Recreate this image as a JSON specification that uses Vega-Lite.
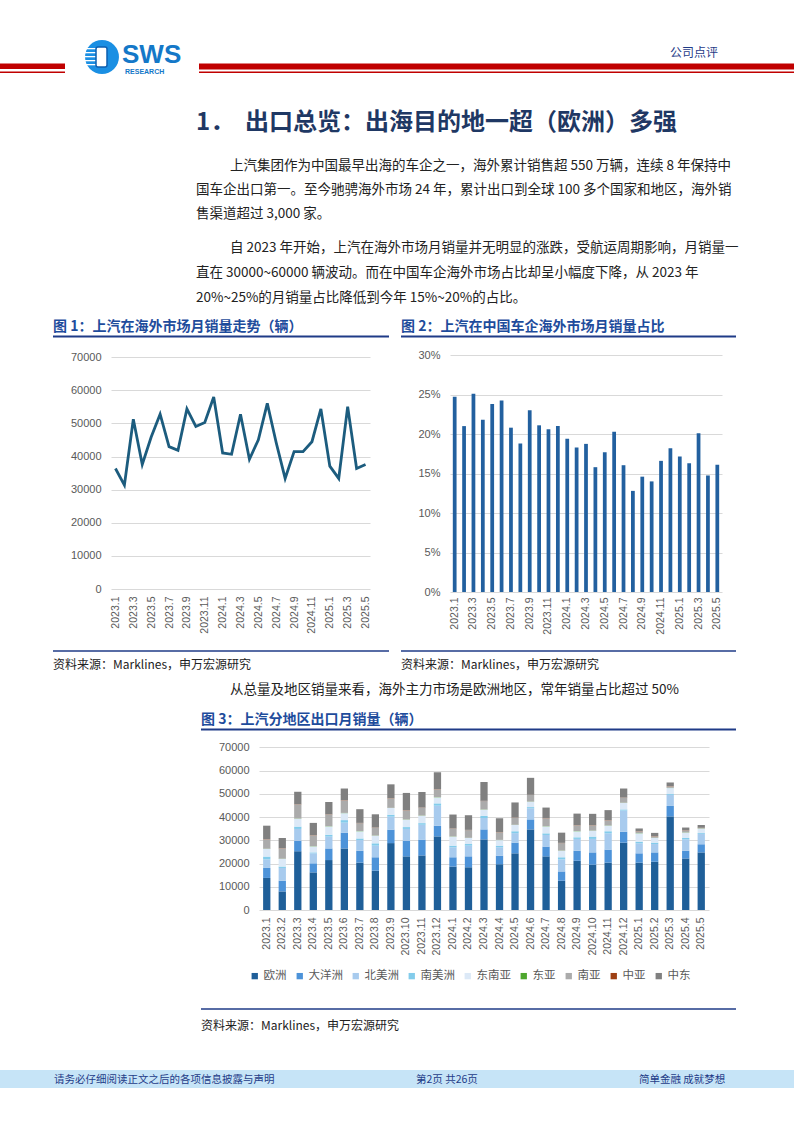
{
  "$schema": "https://vega.github.io/schema/vega-lite/v6.json",
  "padding": 0,
  "background": "white",
  "spacing": 0,
  "config": {
    "view": {"stroke": null},
    "font": "Noto Sans CJK SC",
    "axis": {"labelFont": "Liberation Sans", "labelColor": "#595959", "ticks": false, "domain": false, "title": null, "gridColor": "#D9D9D9", "gridWidth": 1, "labelOverlap": false}
  },
  "datasets": {
    "line": [
      {"m": "2023.1", "v": 36400}, {"m": "2023.2", "v": 31400}, {"m": "2023.3", "v": 51300}, {"m": "2023.4", "v": 37600},
      {"m": "2023.5", "v": 45900}, {"m": "2023.6", "v": 52800}, {"m": "2023.7", "v": 43000}, {"m": "2023.8", "v": 41900},
      {"m": "2023.9", "v": 54400}, {"m": "2023.10", "v": 49100}, {"m": "2023.11", "v": 50300}, {"m": "2023.12", "v": 58000},
      {"m": "2024.1", "v": 41100}, {"m": "2024.2", "v": 40700}, {"m": "2024.3", "v": 52800}, {"m": "2024.4", "v": 39200},
      {"m": "2024.5", "v": 45100}, {"m": "2024.6", "v": 56100}, {"m": "2024.7", "v": 44200}, {"m": "2024.8", "v": 33400},
      {"m": "2024.9", "v": 41500}, {"m": "2024.10", "v": 41500}, {"m": "2024.11", "v": 44500}, {"m": "2024.12", "v": 54400},
      {"m": "2025.1", "v": 37100}, {"m": "2025.2", "v": 33400}, {"m": "2025.3", "v": 55100}, {"m": "2025.4", "v": 36400},
      {"m": "2025.5", "v": 37600}
    ],
    "share": [
      {"m": "2023.1", "s": 0.247}, {"m": "2023.2", "s": 0.210}, {"m": "2023.3", "s": 0.251}, {"m": "2023.4", "s": 0.218},
      {"m": "2023.5", "s": 0.238}, {"m": "2023.6", "s": 0.2425}, {"m": "2023.7", "s": 0.208}, {"m": "2023.8", "s": 0.188},
      {"m": "2023.9", "s": 0.230}, {"m": "2023.10", "s": 0.211}, {"m": "2023.11", "s": 0.206}, {"m": "2023.12", "s": 0.210},
      {"m": "2024.1", "s": 0.194}, {"m": "2024.2", "s": 0.183}, {"m": "2024.3", "s": 0.1875}, {"m": "2024.4", "s": 0.158},
      {"m": "2024.5", "s": 0.177}, {"m": "2024.6", "s": 0.203}, {"m": "2024.7", "s": 0.1605}, {"m": "2024.8", "s": 0.128},
      {"m": "2024.9", "s": 0.146}, {"m": "2024.10", "s": 0.140}, {"m": "2024.11", "s": 0.166}, {"m": "2024.12", "s": 0.182},
      {"m": "2025.1", "s": 0.1715}, {"m": "2025.2", "s": 0.163}, {"m": "2025.3", "s": 0.201}, {"m": "2025.4", "s": 0.1475},
      {"m": "2025.5", "s": 0.161}
    ],
    "region": [
      {"m": "2023.1", "欧洲": 13800, "大洋洲": 4300, "北美洲": 3700, "南美洲": 1200, "东南亚": 3300, "东亚": 100, "南亚": 4000, "中亚": 100, "中东": 5800},
      {"m": "2023.2", "欧洲": 8000, "大洋洲": 4600, "北美洲": 5500, "南美洲": 600, "东南亚": 3300, "东亚": 100, "南亚": 4400, "中亚": 100, "中东": 4400},
      {"m": "2023.3", "欧洲": 25300, "大洋洲": 4500, "北美洲": 5100, "南美洲": 1000, "东南亚": 3400, "东亚": 100, "南亚": 6000, "中亚": 100, "中东": 5400},
      {"m": "2023.4", "欧洲": 16200, "大洋洲": 3900, "北美洲": 4300, "南美洲": 400, "东南亚": 2600, "东亚": 100, "南亚": 4600, "中亚": 100, "中东": 5300},
      {"m": "2023.5", "欧洲": 21500, "大洋洲": 5000, "北美洲": 5100, "南美洲": 800, "东南亚": 3600, "东亚": 100, "南亚": 5000, "中亚": 100, "中东": 5300},
      {"m": "2023.6", "欧洲": 26500, "大洋洲": 6800, "北美洲": 4300, "南美洲": 1100, "东南亚": 3000, "东亚": 100, "南亚": 5400, "中亚": 100, "中东": 5000},
      {"m": "2023.7", "欧洲": 20400, "大洋洲": 5100, "北美洲": 4600, "南美洲": 700, "东南亚": 3100, "东亚": 100, "南亚": 3400, "中亚": 100, "中东": 5900},
      {"m": "2023.8", "欧洲": 16900, "大洋洲": 5800, "北美洲": 5000, "南美洲": 1000, "东南亚": 3300, "东亚": 100, "南亚": 3300, "中亚": 100, "中东": 5700},
      {"m": "2023.9", "欧洲": 28800, "大洋洲": 5800, "北美洲": 5600, "南美洲": 800, "东南亚": 2900, "东亚": 100, "南亚": 4000, "中亚": 100, "中东": 6000},
      {"m": "2023.10", "欧洲": 23100, "大洋洲": 6700, "北美洲": 5100, "南美洲": 800, "东南亚": 3200, "东亚": 100, "南亚": 3900, "中亚": 100, "中东": 7400},
      {"m": "2023.11", "欧洲": 23500, "大洋洲": 6800, "北美洲": 6400, "南美洲": 700, "东南亚": 3200, "东亚": 100, "南亚": 3300, "中亚": 100, "中东": 6700},
      {"m": "2023.12", "欧洲": 31700, "大洋洲": 4600, "北美洲": 8600, "南美洲": 1000, "东南亚": 2600, "东亚": 100, "南亚": 3300, "中亚": 100, "中东": 7300},
      {"m": "2024.1", "欧洲": 18700, "大洋洲": 4000, "北美洲": 4300, "南美洲": 700, "东南亚": 3900, "东亚": 100, "南亚": 3300, "中亚": 100, "中东": 6000},
      {"m": "2024.2", "欧洲": 18400, "大洋洲": 4700, "北美洲": 4600, "南美洲": 700, "东南亚": 2600, "东亚": 100, "南亚": 3300, "中亚": 100, "中东": 6300},
      {"m": "2024.3", "欧洲": 30400, "大洋洲": 4300, "北美洲": 4900, "南美洲": 900, "东南亚": 2700, "东亚": 100, "南亚": 3600, "中亚": 100, "中东": 8100},
      {"m": "2024.4", "欧洲": 19700, "大洋洲": 3700, "北美洲": 3600, "南美洲": 700, "东南亚": 2400, "东亚": 100, "南亚": 3200, "中亚": 100, "中东": 6000},
      {"m": "2024.5", "欧洲": 24400, "大洋洲": 4600, "北美洲": 4100, "南美洲": 800, "东南亚": 2700, "东亚": 100, "南亚": 3000, "中亚": 100, "中东": 6500},
      {"m": "2024.6", "欧洲": 34700, "大洋洲": 4300, "北美洲": 4800, "南美洲": 500, "东南亚": 2300, "东亚": 100, "南亚": 2800, "中亚": 100, "中东": 7300},
      {"m": "2024.7", "欧洲": 23100, "大洋洲": 4200, "北美洲": 5000, "南美洲": 700, "东南亚": 3000, "东亚": 100, "南亚": 3300, "中亚": 100, "中东": 4600},
      {"m": "2024.8", "欧洲": 12600, "大洋洲": 4000, "北美洲": 5200, "南美洲": 900, "东南亚": 2800, "东亚": 100, "南亚": 3200, "中亚": 100, "中东": 4400},
      {"m": "2024.9", "欧洲": 21200, "大洋洲": 4300, "北美洲": 5100, "南美洲": 700, "东南亚": 2600, "东亚": 100, "南亚": 2400, "中亚": 100, "中东": 5000},
      {"m": "2024.10", "欧洲": 19500, "大洋洲": 5300, "北美洲": 5800, "南美洲": 1000, "东南亚": 2500, "东亚": 100, "南亚": 2200, "中亚": 100, "中东": 4900},
      {"m": "2024.11", "欧洲": 20400, "大洋洲": 5600, "北美洲": 7000, "南美洲": 900, "东南亚": 2400, "东亚": 100, "南亚": 2200, "中亚": 100, "中东": 4300},
      {"m": "2024.12", "欧洲": 29000, "大洋洲": 4700, "北美洲": 9100, "南美洲": 500, "东南亚": 2800, "东亚": 100, "南亚": 2100, "中亚": 100, "中东": 3900},
      {"m": "2025.1", "欧洲": 20400, "大洋洲": 4000, "北美洲": 4300, "南美洲": 700, "东南亚": 3600, "东亚": 100, "南亚": 700, "中亚": 100, "中东": 1200},
      {"m": "2025.2", "欧洲": 20800, "大洋洲": 4000, "北美洲": 3600, "南美洲": 600, "东南亚": 2000, "东亚": 100, "南亚": 600, "中亚": 100, "中东": 1400},
      {"m": "2025.3", "欧洲": 40300, "大洋洲": 4500, "北美洲": 4700, "南美洲": 400, "东南亚": 2600, "东亚": 100, "南亚": 600, "中亚": 100, "中东": 1600},
      {"m": "2025.4", "欧洲": 22200, "大洋洲": 3300, "北美洲": 4900, "南美洲": 600, "东南亚": 2300, "东亚": 100, "南亚": 800, "中亚": 100, "中东": 1200},
      {"m": "2025.5", "欧洲": 24800, "大洋洲": 3500, "北美洲": 4400, "南美洲": 400, "东南亚": 1900, "东亚": 100, "南亚": 200, "中亚": 100, "中东": 1200}
    ]
  },
  "vconcat": [
    {
      "width": 794, "height": 344,
      "data": {"values": [{}]},
      "layer": [
        {"mark": {"type": "rect", "fill": "#C00000"}, "encoding": {"x": {"value": 0}, "x2": {"value": 65}, "y": {"value": 63.5}, "y2": {"value": 69}}},
        {"mark": {"type": "rect", "fill": "#C00000"}, "encoding": {"x": {"value": 0}, "x2": {"value": 65}, "y": {"value": 71.5}, "y2": {"value": 73}}},
        {"mark": {"type": "rect", "fill": "#C00000"}, "encoding": {"x": {"value": 199}, "x2": {"value": 794}, "y": {"value": 63.5}, "y2": {"value": 69.5}}},
        {"mark": {"type": "rect", "fill": "#C00000"}, "encoding": {"x": {"value": 199}, "x2": {"value": 794}, "y": {"value": 71.5}, "y2": {"value": 73}}},
        {"mark": {"type": "point", "shape": "circle", "filled": true, "size": 1150, "color": "#1A8FE3", "opacity": 1}, "encoding": {"x": {"value": 102}, "y": {"value": 57}}},
        {"mark": {"type": "rect", "fill": "white"}, "encoding": {"x": {"value": 84}, "x2": {"value": 96}, "y": {"value": 48}, "y2": {"value": 49.3}}},
        {"mark": {"type": "rect", "fill": "white"}, "encoding": {"x": {"value": 84}, "x2": {"value": 96}, "y": {"value": 52}, "y2": {"value": 53.3}}},
        {"mark": {"type": "rect", "fill": "white"}, "encoding": {"x": {"value": 84}, "x2": {"value": 96}, "y": {"value": 56}, "y2": {"value": 57.3}}},
        {"mark": {"type": "rect", "fill": "white"}, "encoding": {"x": {"value": 84}, "x2": {"value": 96}, "y": {"value": 60}, "y2": {"value": 61.3}}},
        {"mark": {"type": "rect", "fill": "white"}, "encoding": {"x": {"value": 84}, "x2": {"value": 96}, "y": {"value": 64}, "y2": {"value": 65.3}}},
        {"mark": {"type": "rect", "fill": "white", "stroke": "#0D5FB0", "strokeWidth": 1.5, "cornerRadius": 2}, "encoding": {"x": {"value": 96}, "x2": {"value": 107}, "y": {"value": 47}, "y2": {"value": 67}}},
        {"mark": {"type": "text", "text": "SWS", "font": "Liberation Sans", "fontWeight": "bold", "fontSize": 26, "color": "#1478C8", "align": "left", "baseline": "alphabetic"}, "encoding": {"x": {"value": 122}, "y": {"value": 63}}},
        {"mark": {"type": "text", "text": "RESEARCH", "font": "Liberation Sans", "fontWeight": "bold", "fontSize": 7, "color": "#1478C8", "align": "left", "baseline": "alphabetic"}, "encoding": {"x": {"value": 125}, "y": {"value": 74}}},
        {"mark": {"type": "text", "text": "公司点评", "fontSize": 12, "color": "#1F3C88", "align": "left", "baseline": "alphabetic"}, "encoding": {"x": {"value": 670}, "y": {"value": 57}}},
        {"mark": {"type": "text", "text": "1．", "fontSize": 24, "fontWeight": "bold", "color": "#1F3864", "align": "left", "baseline": "alphabetic"}, "encoding": {"x": {"value": 196}, "y": {"value": 130}}},
        {"mark": {"type": "text", "text": "出口总览：出海目的地一超（欧洲）多强", "fontSize": 24, "fontWeight": "bold", "color": "#1F3864", "align": "left", "baseline": "alphabetic"}, "encoding": {"x": {"value": 245}, "y": {"value": 130}}},
        {"mark": {"type": "text", "text": "上汽集团作为中国最早出海的车企之一，海外累计销售超 550 万辆，连续 8 年保持中", "fontSize": 13.5, "color": "#222222", "align": "left", "baseline": "alphabetic"}, "encoding": {"x": {"value": 230}, "y": {"value": 170}}},
        {"mark": {"type": "text", "text": "国车企出口第一。至今驰骋海外市场 24 年，累计出口到全球 100 多个国家和地区，海外销\n售渠道超过 3,000 家。", "lineBreak": "\n", "lineHeight": 24, "fontSize": 13.5, "color": "#222222", "align": "left", "baseline": "alphabetic"}, "encoding": {"x": {"value": 196}, "y": {"value": 194}}},
        {"mark": {"type": "text", "text": "自 2023 年开始，上汽在海外市场月销量并无明显的涨跌，受航运周期影响，月销量一", "fontSize": 13.5, "color": "#222222", "align": "left", "baseline": "alphabetic"}, "encoding": {"x": {"value": 230}, "y": {"value": 252}}},
        {"mark": {"type": "text", "text": "直在  30000~60000  辆波动。而在中国车企海外市场占比却呈小幅度下降，从  2023  年\n20%~25%的月销量占比降低到今年 15%~20%的占比。", "lineBreak": "\n", "lineHeight": 24.5, "fontSize": 13.5, "color": "#222222", "align": "left", "baseline": "alphabetic"}, "encoding": {"x": {"value": 196}, "y": {"value": 277}}},
        {"mark": {"type": "text", "text": "图 1：上汽在海外市场月销量走势（辆）", "fontSize": 14, "fontWeight": "bold", "color": "#1E4C9C", "align": "left", "baseline": "alphabetic"}, "encoding": {"x": {"value": 53}, "y": {"value": 331}}},
        {"mark": {"type": "text", "text": "图 2：上汽在中国车企海外市场月销量占比", "fontSize": 14, "fontWeight": "bold", "color": "#1E4C9C", "align": "left", "baseline": "alphabetic"}, "encoding": {"x": {"value": 401}, "y": {"value": 331}}},
        {"mark": {"type": "rect", "fill": "#1F3B87"}, "encoding": {"x": {"value": 53}, "x2": {"value": 389}, "y": {"value": 335.5}, "y2": {"value": 337.5}}},
        {"mark": {"type": "rect", "fill": "#1F3B87"}, "encoding": {"x": {"value": 401}, "x2": {"value": 736}, "y": {"value": 335.5}, "y2": {"value": 337.5}}}
      ]
    },
    {
      "spacing": 0,
      "bounds": "flush",
      "hconcat": [
        {"width": 111, "height": 393, "data": {"values": [{}]}, "mark": {"type": "text", "text": ""}, "encoding": {}},
        {
          "width": 259, "height": 244,
          "layer": [
            {
              "data": {"name": "line"},
              "mark": {"type": "line", "color": "#1C5C7E", "strokeWidth": 2.8},
              "encoding": {
                "x": {"field": "m", "type": "ordinal", "sort": null, "scale": {"type": "point", "padding": 0.5},
                  "axis": {"values": ["2023.1","2023.3","2023.5","2023.7","2023.9","2023.11","2024.1","2024.3","2024.5","2024.7","2024.9","2024.11","2025.1","2025.3","2025.5"], "labelAngle": -90, "labelFontSize": 10.5, "labelPadding": 7, "grid": false}},
                "y": {"field": "v", "type": "quantitative", "scale": {"domain": [0, 73716], "nice": false},
                  "axis": {"values": [0, 10000, 20000, 30000, 40000, 50000, 60000, 70000], "format": "d", "labelFontSize": 11, "labelPadding": 10, "grid": true}}
              }
            },
            {"data": {"values": [{}]}, "mark": {"type": "rect", "fill": "#1F3B87"}, "encoding": {"x": {"value": -58}, "x2": {"value": 278}, "y": {"value": 305.3}, "y2": {"value": 306.8}}},
            {"data": {"values": [{}]}, "mark": {"type": "rect", "fill": "#1F3B87"}, "encoding": {"x": {"value": 290}, "x2": {"value": 625}, "y": {"value": 305.3}, "y2": {"value": 306.8}}},
            {"data": {"values": [{}]}, "mark": {"type": "text", "text": "资料来源：Marklines，申万宏源研究", "fontSize": 12, "color": "#222222", "align": "left", "baseline": "alphabetic"}, "encoding": {"x": {"value": -58}, "y": {"value": 323.5}}},
            {"data": {"values": [{}]}, "mark": {"type": "text", "text": "资料来源：Marklines，申万宏源研究", "fontSize": 12, "color": "#222222", "align": "left", "baseline": "alphabetic"}, "encoding": {"x": {"value": 290}, "y": {"value": 323.5}}},
            {"data": {"values": [{}]}, "mark": {"type": "text", "text": "从总量及地区销量来看，海外主力市场是欧洲地区，常年销量占比超过 50%", "fontSize": 13.5, "color": "#222222", "align": "left", "baseline": "alphabetic"}, "encoding": {"x": {"value": 119}, "y": {"value": 349}}},
            {"data": {"values": [{}]}, "mark": {"type": "text", "text": "图 3：上汽分地区出口月销量（辆）", "fontSize": 14, "fontWeight": "bold", "color": "#1E4C9C", "align": "left", "baseline": "alphabetic"}, "encoding": {"x": {"value": 90}, "y": {"value": 379}}},
            {"data": {"values": [{}]}, "mark": {"type": "rect", "fill": "#1F3B87"}, "encoding": {"x": {"value": 90}, "x2": {"value": 625}, "y": {"value": 383.5}, "y2": {"value": 385.5}}}
          ]
        },
        {"width": 80, "height": 10, "data": {"values": [{}]}, "mark": {"type": "text", "text": ""}, "encoding": {}},
        {
          "width": 272, "height": 247,
          "data": {"name": "share"},
          "mark": {"type": "bar", "color": "#22609F"},
          "encoding": {
            "x": {"field": "m", "type": "ordinal", "sort": null, "scale": {"type": "band", "paddingInner": 0.6, "paddingOuter": 0.3},
              "axis": {"values": ["2023.1","2023.3","2023.5","2023.7","2023.9","2023.11","2024.1","2024.3","2024.5","2024.7","2024.9","2024.11","2025.1","2025.3","2025.5"], "labelAngle": -90, "labelFontSize": 10.5, "labelPadding": 5, "grid": false}},
            "y": {"field": "s", "type": "quantitative", "scale": {"domain": [0, 0.31266], "nice": false},
              "axis": {"values": [0, 0.05, 0.1, 0.15, 0.2, 0.25, 0.3], "format": ".0%", "labelFontSize": 11, "labelPadding": 10, "grid": true}}
          }
        }
      ]
    },
    {
      "spacing": 0,
      "bounds": "flush",
      "hconcat": [
        {"width": 259, "height": 386, "data": {"values": [{}]}, "mark": {"type": "text", "text": ""}, "encoding": {}},
        {
          "width": 450, "height": 172,
          "layer": [
            {
              "data": {"name": "region"},
              "transform": [
                {"fold": ["欧洲", "大洋洲", "北美洲", "南美洲", "东南亚", "东亚", "南亚", "中亚", "中东"], "as": ["region", "value"]},
                {"calculate": "indexof(['欧洲','大洋洲','北美洲','南美洲','东南亚','东亚','南亚','中亚','中东'], datum.region)", "as": "ord"}
              ],
              "mark": {"type": "bar"},
              "encoding": {
                "x": {"field": "m", "type": "ordinal", "sort": null, "scale": {"type": "band", "paddingInner": 0.53, "paddingOuter": 0.265},
                  "axis": {"labelAngle": -90, "labelFontSize": 10.5, "labelPadding": 7, "grid": false}},
                "y": {"field": "value", "type": "quantitative", "stack": "zero", "scale": {"domain": [0, 74047], "nice": false},
                  "axis": {"values": [0, 10000, 20000, 30000, 40000, 50000, 60000, 70000], "format": "d", "labelFontSize": 11, "labelPadding": 10, "grid": true}},
                "order": {"field": "ord", "type": "quantitative", "sort": "ascending"},
                "color": {"field": "region", "type": "nominal",
                  "scale": {"domain": ["欧洲", "大洋洲", "北美洲", "南美洲", "东南亚", "东亚", "南亚", "中亚", "中东"],
                            "range": ["#1F5F99", "#4D93D9", "#A8CBEE", "#83CCEB", "#DCE9F7", "#4EA72E", "#ABABAB", "#9E4013", "#808080"]},
                  "legend": {"orient": "none", "legendX": 249, "legendY": 970, "direction": "horizontal", "title": null, "symbolType": "square", "symbolSize": 40, "symbolStrokeWidth": 0, "labelFontSize": 11.5, "labelColor": "#595959", "labelFont": "Noto Sans CJK SC", "labelOffset": 3, "columnPadding": 7, "padding": 0}}
              }
            },
            {"data": {"values": [{}]}, "mark": {"type": "rect", "fill": "#1F3B87"}, "encoding": {"x": {"value": -58}, "x2": {"value": 477}, "y": {"value": 270.3}, "y2": {"value": 271.8}}},
            {"data": {"values": [{}]}, "mark": {"type": "text", "text": "资料来源：Marklines，申万宏源研究", "fontSize": 12, "color": "#222222", "align": "left", "baseline": "alphabetic"}, "encoding": {"x": {"value": -58}, "y": {"value": 291.5}}},
            {"data": {"values": [{}]}, "mark": {"type": "rect", "fill": "#C6E4F7"}, "encoding": {"x": {"value": -259}, "x2": {"value": 535}, "y": {"value": 332}, "y2": {"value": 350}}},
            {"data": {"values": [{}]}, "mark": {"type": "text", "text": "请务必仔细阅读正文之后的各项信息披露与声明", "fontSize": 10.5, "color": "#1F3C88", "align": "left", "baseline": "alphabetic"}, "encoding": {"x": {"value": -205}, "y": {"value": 345}}},
            {"data": {"values": [{}]}, "mark": {"type": "text", "text": "第2页 共26页", "fontSize": 10.5, "color": "#1F3C88", "align": "left", "baseline": "alphabetic"}, "encoding": {"x": {"value": 157}, "y": {"value": 345}}},
            {"data": {"values": [{}]}, "mark": {"type": "text", "text": "简单金融  成就梦想", "fontSize": 10.5, "color": "#1F3C88", "align": "left", "baseline": "alphabetic"}, "encoding": {"x": {"value": 380}, "y": {"value": 345}}}
          ]
        }
      ]
    }
  ]
}
